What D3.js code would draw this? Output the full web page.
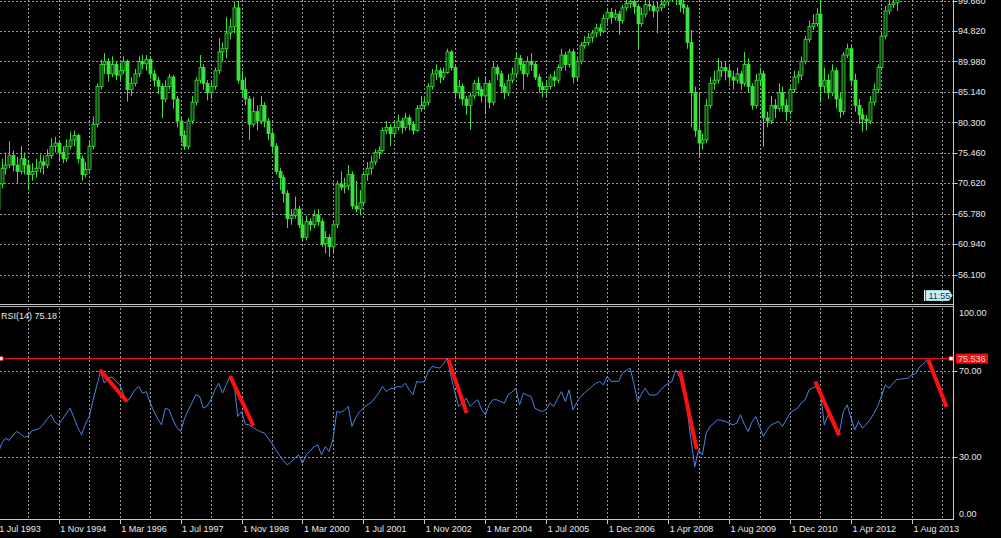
<!DOCTYPE html>
<html><head><meta charset="utf-8">
<script src="https://cdn.jsdelivr.net/npm/d3@7"></script>
<style>html,body{margin:0;padding:0;background:#000;overflow:hidden}svg{display:block}</style>
</head><body>
<script>
// ---- data (monthly bars, index 0..244) ----
const openP = [66.5,70.5,73.0,73.5,75.0,73.5,72.5,74.5,73.5,72.0,72.5,73.0,74.0,73.5,75.0,76.5,77.0,75.5,74.5,76.5,77.5,78.2,74.5,72.0,72.8,76.5,80.0,86.0,89.5,90.0,88.0,89.5,87.8,88.5,90.0,85.5,86.5,88.0,90.0,89.6,90.3,88.0,87.0,86.0,84.0,86.0,87.5,84.0,80.5,78.2,76.5,80.5,83.5,87.0,89.0,86.5,85.0,86.0,88.5,91.5,92.0,94.5,95.5,98.5,87.0,85.5,84.0,80.0,82.0,80.5,83.0,80.5,78.5,76.5,72.5,71.5,69.0,65.0,65.5,66.5,64.0,62.0,64.5,64.0,65.5,64.5,61.0,62.0,60.5,64.0,70.5,70.0,70.2,72.0,67.0,66.5,67.5,72.0,73.0,74.0,75.5,75.8,79.0,79.5,78.5,79.5,80.5,79.5,81.0,80.0,79.0,82.5,83.0,83.5,86.0,88.0,88.5,87.5,88.2,91.5,89.0,85.0,86.0,84.0,83.0,84.5,86.5,85.5,84.5,86.5,83.5,89.0,88.0,86.0,85.0,87.0,88.0,90.5,89.5,88.0,90.0,89.5,87.5,86.0,85.5,86.0,87.5,87.0,89.0,91.0,89.5,91.5,87.5,90.0,92.5,93.0,93.8,94.5,95.3,94.8,96.8,97.8,97.0,97.5,96.5,98.5,99.2,99.5,98.7,96.0,97.5,99.0,98.8,98.0,98.5,99.0,99.5,100.2,100.5,100.0,99.0,98.5,93.0,85.0,79.0,77.0,77.5,83.0,86.5,87.0,88.5,89.0,88.5,87.5,87.0,88.0,86.5,89.5,86.0,83.0,87.0,88.0,81.0,80.5,83.0,82.5,85.0,83.0,82.0,85.5,87.5,87.8,90.0,93.5,95.5,96.0,97.5,86.0,87.0,85.0,88.5,84.0,82.0,91.0,92.0,87.0,83.0,81.5,80.8,80.5,83.5,85.5,89.0,94.0,98.0,99.0,99.3,100.2,101.5,102.5,102.0,103.5,104.0,105.5,106.5];
const highP = [71.2,74.5,75.5,77.3,75.8,74.8,76.5,75.5,74.3,73.8,74.5,75.2,75.0,76.0,77.8,78.0,77.5,76.5,77.6,78.8,79.0,78.5,75.0,74.0,77.2,81.2,86.5,90.3,91.3,90.5,90.8,90.0,89.8,90.8,90.3,87.5,88.8,90.8,91.0,91.0,90.8,88.6,87.5,86.5,87.0,88.0,87.8,84.5,81.0,79.0,81.0,84.5,87.5,91.0,89.5,87.0,87.0,89.0,93.7,93.0,97.0,96.8,99.5,99.6,88.5,87.5,84.5,84.3,83.0,84.5,83.5,81.0,79.0,77.0,73.0,72.0,69.5,66.5,68.5,67.0,65.0,65.5,65.0,66.3,66.5,65.0,63.0,62.5,64.5,71.0,72.5,71.5,73.5,72.5,71.0,69.5,72.5,74.0,75.0,76.0,76.5,79.5,80.5,80.0,80.5,81.5,81.0,81.8,81.5,80.5,83.0,84.5,84.5,86.5,88.8,89.5,89.0,89.0,92.0,91.8,89.5,87.0,86.5,84.5,85.0,87.0,87.5,86.0,87.5,87.0,89.8,89.5,88.5,86.5,88.0,89.0,91.5,91.0,90.0,90.8,91.3,90.0,88.0,86.8,87.0,88.0,88.5,89.5,92.0,91.5,92.0,92.0,90.5,93.0,94.0,94.5,95.0,96.0,96.0,97.5,98.5,98.5,98.3,98.0,99.0,100.0,100.5,100.2,99.0,98.5,99.8,100.0,99.5,99.5,100.0,100.5,101.0,101.5,101.5,100.8,100.0,99.0,95.0,86.0,85.0,78.5,84.0,87.5,88.5,90.5,90.0,90.0,89.5,88.5,89.0,88.5,91.5,90.5,86.5,88.0,89.0,88.5,82.0,84.5,84.0,86.5,86.0,84.0,86.0,88.5,88.5,90.8,94.0,96.5,97.5,98.5,99.8,89.0,88.0,89.5,89.0,85.0,91.5,92.8,92.5,88.0,84.0,82.5,81.5,84.5,86.5,89.5,94.5,98.8,100.5,100.8,100.5,102.3,103.0,103.5,104.0,105.0,106.0,107.0,108.0];
const lowP = [65.8,69.8,72.0,73.0,72.5,70.5,72.0,72.0,69.5,71.0,71.5,72.3,72.0,73.0,74.5,75.5,74.0,73.8,74.0,76.0,76.5,73.8,71.0,71.5,72.5,76.0,79.5,85.5,88.0,86.8,87.5,87.0,87.0,88.0,83.6,84.5,86.0,87.5,88.8,88.5,87.2,86.0,84.8,81.0,83.5,85.5,82.5,79.5,77.0,75.9,76.0,80.0,83.0,86.5,85.5,83.8,84.0,85.5,88.0,90.0,90.5,93.5,94.5,86.5,84.5,83.0,77.5,79.5,79.0,80.0,79.5,77.5,75.5,72.0,69.5,67.5,63.5,64.0,65.0,63.5,61.5,61.5,63.0,63.5,63.8,60.5,59.5,58.9,59.5,63.5,69.5,69.0,69.5,66.5,66.0,65.5,67.0,71.0,72.0,73.5,74.5,75.5,78.5,76.5,78.0,79.0,78.5,79.0,79.0,78.3,78.8,82.0,82.5,83.0,85.5,87.0,86.5,87.0,88.0,88.5,84.0,84.0,83.0,81.5,79.1,84.0,84.5,83.5,81.5,82.5,83.0,87.0,85.0,84.0,84.5,86.5,87.5,88.5,85.5,87.5,88.5,87.0,85.0,84.3,84.5,85.5,86.0,86.5,88.5,88.5,89.0,86.5,87.0,89.5,92.0,92.5,93.0,93.8,94.0,94.5,96.0,96.0,96.5,94.2,96.0,98.0,98.5,97.5,92.1,95.5,97.0,98.0,97.0,94.5,98.0,98.5,99.0,99.5,99.0,97.8,97.5,92.0,79.5,78.0,74.8,76.0,77.0,82.5,85.5,86.5,87.5,87.0,86.5,85.5,86.5,85.5,86.0,85.0,82.3,82.5,86.0,76.4,79.5,80.0,81.0,82.0,82.0,80.5,81.5,85.0,86.5,87.0,89.5,93.0,95.0,95.5,83.4,85.0,84.0,84.5,82.5,81.0,81.5,90.5,86.0,82.0,80.0,78.8,79.0,80.0,83.0,85.0,88.5,93.5,97.5,98.5,98.0,99.9,100.8,101.2,101.5,103.0,103.5,105.0,106.0];
const closeP = [70.5,73.0,73.5,75.0,73.5,72.5,74.5,73.5,72.0,72.5,73.0,74.0,73.5,75.0,76.5,77.0,75.5,74.5,76.5,77.5,78.2,74.5,72.0,72.8,76.5,80.0,86.0,89.5,90.0,88.0,89.5,87.8,88.5,90.0,85.5,86.5,88.0,90.0,89.6,90.3,88.0,87.0,86.0,84.0,86.0,87.5,84.0,80.5,78.2,76.5,80.5,83.5,87.0,89.0,86.5,85.0,86.0,88.5,91.5,92.0,94.5,95.5,98.5,87.0,85.5,84.0,80.0,82.0,80.5,83.0,80.5,78.5,76.5,72.5,71.5,69.0,65.0,65.5,66.5,64.0,62.0,64.5,64.0,65.5,64.5,61.0,62.0,60.5,64.0,70.5,70.0,70.2,72.0,67.0,66.5,67.5,72.0,73.0,74.0,75.5,75.8,79.0,79.5,78.5,79.5,80.5,79.5,81.0,80.0,79.0,82.5,83.0,83.5,86.0,88.0,88.5,87.5,88.2,91.5,89.0,85.0,86.0,84.0,83.0,84.5,86.5,85.5,84.5,86.5,83.5,89.0,88.0,86.0,85.0,87.0,88.0,90.5,89.5,88.0,90.0,89.5,87.5,86.0,85.5,86.0,87.5,87.0,89.0,91.0,89.5,91.5,87.5,90.0,92.5,93.0,93.8,94.5,95.3,94.8,96.8,97.8,97.0,97.5,96.5,98.5,99.2,99.5,98.7,96.0,97.5,99.0,98.8,98.0,98.5,99.0,99.5,100.2,100.5,100.0,99.0,98.5,93.0,85.0,79.0,77.0,77.5,83.0,86.5,87.0,88.5,89.0,88.5,87.5,87.0,88.0,86.5,89.5,86.0,83.0,87.0,88.0,81.0,80.5,83.0,82.5,85.0,83.0,82.0,85.5,87.5,87.8,90.0,93.5,95.5,96.0,97.5,86.0,87.0,85.0,88.5,84.0,82.0,91.0,92.0,87.0,83.0,81.5,80.8,80.5,83.5,85.5,89.0,94.0,98.0,99.0,99.3,100.2,101.5,102.5,102.0,103.5,104.0,105.5,106.5,107.5];
const rsi = [30.8,36,38.5,37.5,40,41.6,40.5,39,39.5,42,42.4,43.2,45,47.5,49.4,46,44.7,47.5,50,52.5,48,43.5,40.1,45,48.5,56,63,69.5,64.1,66.5,67,65,63.5,59,55.6,58,61,62.6,59.5,60.2,55,51,47.5,44.7,52.5,51.7,47,43.5,41.6,47.5,51.5,55,58.7,57.9,52.5,53.5,56.5,61,64.1,59.5,63.5,67.2,64.9,48.6,50.9,45,44.7,43.5,42.4,41.5,40.9,38.5,36,33.1,30.5,28,26.1,27.5,29.3,30.8,26.9,30.8,32.5,34.5,35.4,30.8,34.6,32.3,37.8,50.9,50.5,51.5,53.3,44,48,50.9,52.5,54,55,57.2,59.5,62.6,60.2,61.5,61.8,62.6,62.3,64.1,61,58.7,64.9,64.5,64.9,69.5,71.9,71.5,71.1,73,75.8,67.2,60,53.3,54.8,57.2,53.3,55,56.4,52,49.4,54,56.4,56.4,55.6,54.8,58.7,60,61.8,54,59.5,58.5,57.9,52.5,51.5,50.9,52,54.8,53.3,57,60.2,55.6,61,51.7,55,57.9,59.5,61,62.6,64,64.9,63.3,67.2,64.9,65,64.9,68.8,70,71.1,64.1,55.6,59,61.8,58.7,58.5,58.7,61,62.6,64,64.9,70.3,67.2,64.9,51.7,37.8,25.3,33.1,30.8,40.9,44,45.5,47.1,46.8,46.4,45.5,44.7,45.5,49.4,45,41.6,46,48.6,44,39.3,42.5,44.7,45.5,46.3,44,47,50.2,51.5,52.5,55,56.4,61,62,62.6,59.5,44.7,49.4,46.3,43.5,41.6,50.9,54,48,42.4,46.3,43.2,45,47.1,50,53.3,58,63.3,61.8,64,65.7,66,66.2,66.5,68,68.5,71.7,73,75.2];
const dateLabels = ["1 Jul 1993","1 Nov 1994","1 Mar 1996","1 Jul 1997","1 Nov 1998","1 Mar 2000","1 Jul 2001","1 Nov 2002","1 Mar 2004","1 Jul 2005","1 Dec 2006","1 Apr 2008","1 Aug 2009","1 Dec 2010","1 Apr 2012","1 Aug 2013"];
const labelBars = [0,16,32,48,64,80,96,112,128,144,160,176,192,208,224,240];
const priceTicks = [99.66,94.82,89.98,85.14,80.30,75.46,70.62,65.78,60.94,56.10];
const rsiTicks = [100,70,30,0];
const rsiLevel = 75.536;
const rsiTitle = "RSI(14) 75.18";
// red trend lines in (bar index, RSI) pairs
const trendLines = [[26.8,70.3,33.9,55.6],[61,67.5,67.1,44.3],[118.3,75,123.1,50.2],[179.1,70,183.5,33.4],[214.6,64.9,220.9,39.8],[244.3,75,249.1,53]];

const W = 1001, H = 538;
const svg = d3.select("body").append("svg").attr("width", W).attr("height", H)
  .style("background", "#000").style("font-family", "'Liberation Sans', Arial, sans-serif");

const axisX = 953.5;
const x = d3.scaleLinear().domain([0, 244]).range([-2.25, -2.25 + 244 * 3.809]);
const yP = d3.scaleLinear().domain([56.1, 94.82]).range([274.5, 31]);
const yR = d3.scaleLinear().domain([0, 100]).range([521, 306]);

const defs = svg.append("defs");
defs.append("clipPath").attr("id", "cp").append("rect").attr("x", 0).attr("y", 0).attr("width", axisX).attr("height", 303);
defs.append("clipPath").attr("id", "cr").append("rect").attr("x", 0).attr("y", 308).attr("width", axisX).attr("height", 211);

const gridCol = "#9a9a9a";
const dash = "2,2";
const gridBars = d3.range(0, 252, 8);

// price panel grid
const gP = svg.append("g").attr("clip-path", "url(#cp)");
gP.selectAll(".vg").data(gridBars).join("line")
  .attr("x1", d => Math.round(x(d)) + 0.5).attr("x2", d => Math.round(x(d)) + 0.5)
  .attr("y1", 0).attr("y2", 303).attr("stroke", gridCol).attr("stroke-dasharray", dash);
gP.selectAll(".hg").data(priceTicks).join("line")
  .attr("x1", 0).attr("x2", axisX).attr("y1", d => Math.round(yP(d)) + 0.5).attr("y2", d => Math.round(yP(d)) + 0.5)
  .attr("stroke", gridCol).attr("stroke-dasharray", dash);

// candles
const bars = d3.range(closeP.length).map(i => ({i, o: openP[i], h: highP[i], l: lowP[i], c: closeP[i]}));
const green = "#3de03d";
gP.selectAll(".wick").data(bars).join("line")
  .attr("x1", d => Math.round(x(d.i)) + 0.5).attr("x2", d => Math.round(x(d.i)) + 0.5)
  .attr("y1", d => yP(d.h)).attr("y2", d => yP(d.l)).attr("stroke", green).attr("stroke-width", 1);
gP.selectAll(".body").data(bars).join("rect")
  .attr("x", d => Math.round(x(d.i)) - 1)
  .attr("y", d => yP(Math.max(d.o, d.c)))
  .attr("width", 3)
  .attr("height", d => Math.max(1, Math.abs(yP(d.o) - yP(d.c))))
  .attr("fill", d => d.c >= d.o ? "#0b3a0b" : green)
  .attr("stroke", green).attr("stroke-width", 0.8);

// separator
svg.append("line").attr("x1", 0).attr("x2", axisX).attr("y1", 304.5).attr("y2", 304.5).attr("stroke", "#c8c8c8");
svg.append("line").attr("x1", 0).attr("x2", axisX).attr("y1", 306.5).attr("y2", 306.5).attr("stroke", "#b0b0b0");

// RSI grid
const gR = svg.append("g").attr("clip-path", "url(#cr)");
gR.selectAll(".vg").data(gridBars).join("line")
  .attr("x1", d => Math.round(x(d)) + 0.5).attr("x2", d => Math.round(x(d)) + 0.5)
  .attr("y1", 308).attr("y2", 519).attr("stroke", gridCol).attr("stroke-dasharray", dash);
gR.selectAll(".hg").data([70, 30]).join("line")
  .attr("x1", 0).attr("x2", axisX).attr("y1", d => Math.round(yR(d)) + 0.5).attr("y2", d => Math.round(yR(d)) + 0.5)
  .attr("stroke", gridCol).attr("stroke-dasharray", dash);

// level line
gR.append("line").attr("x1", 0).attr("x2", axisX).attr("y1", yR(rsiLevel)).attr("y2", yR(rsiLevel))
  .attr("stroke", "#e01010").attr("stroke-width", 1.2);

// RSI line
gR.append("path").datum(rsi).attr("fill", "none").attr("stroke", "#4a84e0").attr("stroke-width", 1)
  .attr("d", d3.line().x((d, i) => x(i)).y(d => yR(d)));

// trend lines
gR.selectAll(".tl").data(trendLines).join("line")
  .attr("x1", d => x(d[0])).attr("y1", d => yR(d[1])).attr("x2", d => x(d[2])).attr("y2", d => yR(d[3]))
  .attr("stroke", "#ff1010").attr("stroke-width", 4);

// level markers
svg.append("rect").attr("x", -1).attr("y", yR(rsiLevel) - 2).attr("width", 4).attr("height", 4).attr("fill", "#fff").attr("stroke", "#e01010").attr("stroke-width", 0.6);
svg.append("rect").attr("x", 949).attr("y", yR(rsiLevel) - 2).attr("width", 4).attr("height", 4).attr("fill", "#fff").attr("stroke", "#e01010").attr("stroke-width", 0.6);

// axes lines
const axCol = "#c8c8c8";
svg.append("line").attr("x1", axisX).attr("x2", axisX).attr("y1", 0).attr("y2", 520).attr("stroke", axCol);
svg.append("line").attr("x1", 0).attr("x2", axisX).attr("y1", 519.5).attr("y2", 519.5).attr("stroke", axCol);

// price labels
const txtCol = "#e8e8e8";
svg.selectAll(".pt").data(priceTicks).join("line")
  .attr("x1", axisX).attr("x2", axisX + 4).attr("y1", d => Math.round(yP(d)) + 0.5).attr("y2", d => Math.round(yP(d)) + 0.5).attr("stroke", axCol);
svg.selectAll(".pl").data(priceTicks).join("text")
  .attr("x", 958).attr("y", d => yP(d) + 3.2).attr("fill", txtCol).attr("font-size", 9)
  .text(d => d.toFixed(3));

// RSI labels
svg.selectAll(".rt").data([70, 30]).join("line")
  .attr("x1", axisX).attr("x2", axisX + 4).attr("y1", d => Math.round(yR(d)) + 0.5).attr("y2", d => Math.round(yR(d)) + 0.5).attr("stroke", axCol);
svg.selectAll(".rl").data(rsiTicks).join("text")
  .attr("x", 959).attr("y", d => d === 100 ? 315.5 : d === 0 ? 516.5 : yR(d) + 3.2)
  .attr("fill", txtCol).attr("font-size", 9).text(d => d.toFixed(2));

// RSI title
svg.append("text").attr("x", 1).attr("y", 318.5).attr("fill", txtCol).attr("font-size", 9).text(rsiTitle);

// level label
const ly = yR(rsiLevel);
svg.append("rect").attr("x", 956).attr("y", ly - 5).attr("width", 32).attr("height", 10).attr("fill", "#f01010");
svg.append("text").attr("x", 958).attr("y", ly + 3.3).attr("fill", "#ffd0d0").attr("font-size", 9).text(rsiLevel.toFixed(3));

// date axis
svg.selectAll(".dt").data(labelBars).join("line")
  .attr("x1", d => Math.round(x(d)) + 0.5).attr("x2", d => Math.round(x(d)) + 0.5)
  .attr("y1", 519).attr("y2", 524).attr("stroke", axCol);
svg.selectAll(".dl").data(labelBars).join("text")
  .attr("x", d => x(d) + 1.5).attr("y", 531.5).attr("fill", txtCol).attr("font-size", 9)
  .text((d, k) => dateLabels[k]);

// time box
const tb = svg.append("g");
tb.append("path").attr("d", "M926,290.5 L949,290.5 L952,295.5 L949,300.5 L926,300.5 Z").attr("fill", "#c8f4f4").attr("stroke", "#9ed8d8");
tb.append("line").attr("x1", 924.5).attr("x2", 924.5).attr("y1", 290).attr("y2", 301).attr("stroke", "#fff");
tb.append("text").attr("x", 928.5).attr("y", 299).attr("fill", "#10306a").attr("font-size", 9).text("11:55");
</script>
</body></html>
